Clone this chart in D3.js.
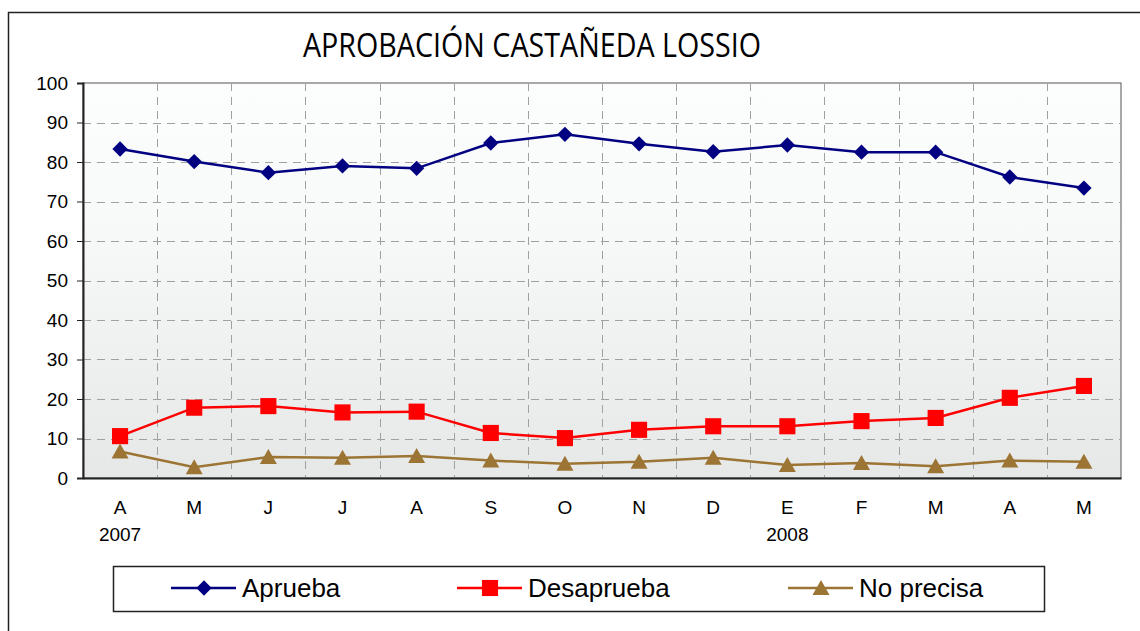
<!DOCTYPE html>
<html>
<head>
<meta charset="utf-8">
<script src="https://cdn.jsdelivr.net/npm/d3@7"></script>
<style>
  body { margin: 0; background: #fff; }
  svg { display: block; }
</style>
</head>
<body>
<div id="chart"></div>
<script>
// datos
var months = ["A", "M", "J", "J", "A", "S", "O", "N", "D", "E", "F", "M", "A", "M"];
var years = ["2007", "", "", "", "", "", "", "", "", "2008", "", "", "", ""];
var aprueba = [83.3, 80.1, 77.3, 79.0, 78.4, 84.8, 87.0, 84.6, 82.6, 84.3, 82.5, 82.5, 76.2, 73.4];
var desaprueba = [10.6, 17.8, 18.2, 16.6, 16.8, 11.4, 10.1, 12.2, 13.1, 13.1, 14.4, 15.2, 20.3, 23.3];
var noPrecisa = [6.7, 2.7, 5.3, 5.1, 5.6, 4.4, 3.6, 4.1, 5.1, 3.3, 3.8, 3.0, 4.4, 4.1];
var yTicks = [0, 10, 20, 30, 40, 50, 60, 70, 80, 90, 100];

var series = [
  {name: "Aprueba", values: aprueba, color: "#000080", marker: "diamond"},
  {name: "Desaprueba", values: desaprueba, color: "#ff0000", marker: "square"},
  {name: "No precisa", values: noPrecisa, color: "#9c7433", marker: "triangle"}
];

var width = 1140, height = 631;
var plotL = 83, plotR = 1121, plotT = 83, plotB = 478;

var svg = d3.select("#chart").append("svg")
  .attr("width", width)
  .attr("height", height)
  .style("font-family", "Arial, 'Liberation Sans', sans-serif");

// marco exterior
svg.append("rect")
  .attr("x", 8.5).attr("y", 12.5)
  .attr("width", width + 20).attr("height", height + 20)
  .attr("fill", "none").attr("stroke", "#222").attr("stroke-width", 1.5);

svg.append("text")
  .attr("x", 303).attr("y", 57)
  .attr("textLength", 458)
  .attr("lengthAdjust", "spacingAndGlyphs")
  .style("font-family", "'Open Sans', 'Noto Sans', sans-serif")
  .style("font-size", "32px")
  .attr("fill", "#000")
  .text("APROBACIÓN CASTAÑEDA LOSSIO");

var x = d3.scaleBand()
  .domain(d3.range(months.length))
  .range([plotL, plotR]);

var y = d3.scaleLinear()
  .domain([0, 100])
  .range([plotB, plotT]);

var defs = svg.append("defs");
var grad = defs.append("linearGradient")
  .attr("id", "bg").attr("x1", 0).attr("y1", 0).attr("x2", 0).attr("y2", 1);
grad.append("stop").attr("offset", "0%").attr("stop-color", "#fcfdfd");
grad.append("stop").attr("offset", "35%").attr("stop-color", "#f8f9f9");
grad.append("stop").attr("offset", "100%").attr("stop-color", "#e6e8e8");

svg.append("rect")
  .attr("x", plotL).attr("y", plotT)
  .attr("width", plotR - plotL).attr("height", plotB - plotT)
  .attr("fill", "url(#bg)")
  .attr("stroke", "#555").attr("stroke-width", 1);

// rejilla
svg.append("g").selectAll("line")
  .data(yTicks.filter(function(d) { return d > 0 && d < 100; }))
  .enter().append("line")
  .attr("x1", plotL).attr("x2", plotR)
  .attr("y1", function(d) { return Math.round(y(d)) + 0.5; })
  .attr("y2", function(d) { return Math.round(y(d)) + 0.5; })
  .attr("stroke", "#a0a0a0")
  .attr("stroke-dasharray", "8,6");

svg.append("g").selectAll("line")
  .data(d3.range(1, months.length))
  .enter().append("line")
  .attr("x1", function(d) { return Math.round(x(d)) + 0.5; })
  .attr("x2", function(d) { return Math.round(x(d)) + 0.5; })
  .attr("y1", plotT).attr("y2", plotB)
  .attr("stroke", "#a0a0a0")
  .attr("stroke-dasharray", "8,6");

// ejes
var yAxis = svg.append("g")
  .attr("transform", "translate(" + plotL + ",0)")
  .call(d3.axisLeft(y).tickValues(yTicks).tickSize(6).tickPadding(9));
yAxis.attr("font-family", null).attr("font-size", null);
yAxis.select(".domain").attr("stroke", "#222").attr("stroke-width", 2);
yAxis.selectAll(".tick line").attr("stroke", "#222");
yAxis.selectAll("text").attr("font-size", 19).attr("fill", "#000");

var xAxis = svg.append("g")
  .attr("transform", "translate(0," + plotB + ")")
  .call(d3.axisBottom(x).tickSize(0).tickPadding(23).tickFormat(function(i) { return months[i]; }));
xAxis.attr("font-family", null).attr("font-size", null);
xAxis.select(".domain").attr("stroke", "#222").attr("stroke-width", 2);
xAxis.selectAll("text").attr("font-size", 19).attr("fill", "#000");

svg.append("g").selectAll("text")
  .data(years)
  .enter().append("text")
  .attr("x", function(d, i) { return x(i) + x.bandwidth() / 2; })
  .attr("y", 541)
  .attr("text-anchor", "middle")
  .attr("font-size", 19)
  .text(function(d) { return d; });

function markerPath(type) {
  if (type === "diamond") return d3.symbol().type(d3.symbolDiamond2).size(150)();
  if (type === "square") return d3.symbol().type(d3.symbolSquare).size(260)();
  return "M0,-8L8.5,7L-8.5,7Z";
}

var line = d3.line()
  .x(function(d, i) { return x(i) + x.bandwidth() / 2; })
  .y(function(d) { return y(d); });

series.forEach(function(s) {
  svg.append("path")
    .datum(s.values)
    .attr("d", line)
    .attr("fill", "none")
    .attr("stroke", s.color)
    .attr("stroke-width", 2.5);

  svg.append("g").selectAll("path")
    .data(s.values)
    .enter().append("path")
    .attr("transform", function(d, i) {
      return "translate(" + (x(i) + x.bandwidth() / 2) + "," + y(d) + ")";
    })
    .attr("d", markerPath(s.marker))
    .attr("fill", s.color);
});

// leyenda
svg.append("rect")
  .attr("x", 113.5).attr("y", 566.5)
  .attr("width", 931).attr("height", 45)
  .attr("fill", "#fff").attr("stroke", "#222").attr("stroke-width", 1.5);

var legendX = [171, 457, 788];
var leg = svg.append("g").selectAll("g")
  .data(series)
  .enter().append("g")
  .attr("transform", function(d, i) { return "translate(" + legendX[i] + ",588)"; });

leg.append("line")
  .attr("x1", 0).attr("x2", 65)
  .attr("stroke", function(d) { return d.color; })
  .attr("stroke-width", 2.5);
leg.append("path")
  .attr("transform", "translate(33,0)")
  .attr("d", function(d) { return markerPath(d.marker); })
  .attr("fill", function(d) { return d.color; });
leg.append("text")
  .attr("x", 71).attr("y", 9)
  .attr("font-size", 26)
  .text(function(d) { return d.name; });
</script>
</body>
</html>
